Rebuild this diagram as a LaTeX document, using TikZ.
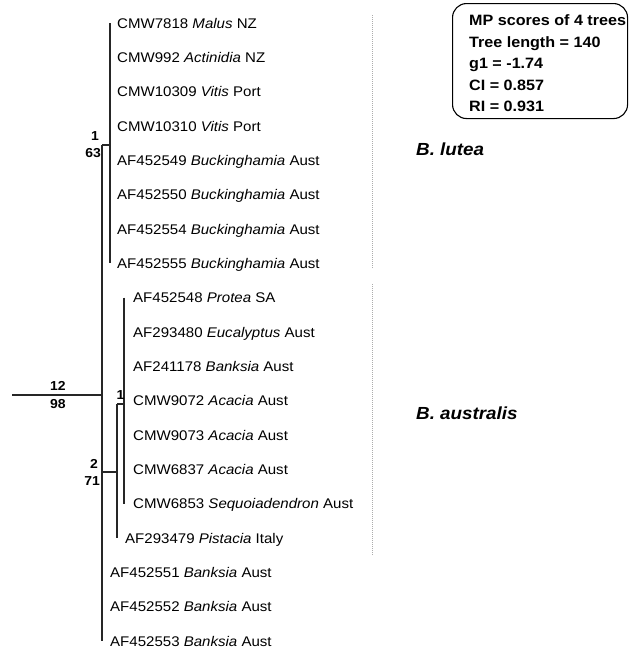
\documentclass[tikz,border=0pt]{standalone}
\usepackage{fontspec}
\setmainfont{Liberation Sans}[FakeStretch=1.075]
\begin{document}
\begin{tikzpicture}[x=1pt,y=-1pt,
  tree/.style={line width=1.1pt, black!85},
  leaf/.style={anchor=west, inner sep=0pt, text height=10pt, text depth=0pt, font=\fontsize{14}{16}\selectfont},
  supp/.style={inner sep=0pt, text height=9.5pt, text depth=0pt, font=\bfseries\fontsize{13}{15}\selectfont},
  clade/.style={anchor=west, inner sep=0pt, text height=12.5pt, text depth=0pt, font=\bfseries\itshape\fontsize{17.5}{20}\selectfont},
  stat/.style={anchor=west, inner sep=0pt, text height=10.7pt, text depth=0pt, font=\bfseries\fontsize{15}{17}\selectfont},
  scan/.style={gray!65, line width=1pt, densely dotted}]
\useasboundingbox (0,0) rectangle (629,648);

% leaves
\node[leaf] (L1)  at (117,23)    {CMW7818 \textit{Malus} NZ};
\node[leaf] (L2)  at (117,57.3)  {CMW992 \textit{Actinidia} NZ};
\node[leaf] (L3)  at (117,91.7)  {CMW10309 \textit{Vitis} Port};
\node[leaf] (L4)  at (117,126)   {CMW10310 \textit{Vitis} Port};
\node[leaf] (L5)  at (117,160.3) {AF452549 \textit{Buckinghamia} Aust};
\node[leaf] (L6)  at (117,194.7) {AF452550 \textit{Buckinghamia} Aust};
\node[leaf] (L7)  at (117,229)   {AF452554 \textit{Buckinghamia} Aust};
\node[leaf] (L8)  at (117,263.3) {AF452555 \textit{Buckinghamia} Aust};
\node[leaf] (L9)  at (133,297.7) {AF452548 \textit{Protea} SA};
\node[leaf] (L10) at (133,332)   {AF293480 \textit{Eucalyptus} Aust};
\node[leaf] (L11) at (133,366.3) {AF241178 \textit{Banksia} Aust};
\node[leaf] (L12) at (133,400.7) {CMW9072 \textit{Acacia} Aust};
\node[leaf] (L13) at (133,435)   {CMW9073 \textit{Acacia} Aust};
\node[leaf] (L14) at (133,469.3) {CMW6837 \textit{Acacia} Aust};
\node[leaf] (L15) at (133,503.7) {CMW6853 \textit{Sequoiadendron} Aust};
\node[leaf] (L16) at (125,538)   {AF293479 \textit{Pistacia} Italy};
\node[leaf] (L17) at (110,572.3) {AF452551 \textit{Banksia} Aust};
\node[leaf] (L18) at (110,606.7) {AF452552 \textit{Banksia} Aust};
\node[leaf] (L19) at (110,641)   {AF452553 \textit{Banksia} Aust};

% internal nodes
\coordinate (stem) at (12,395);
\coordinate (root) at (102,395);
\coordinate (cA) at (110,145);
\coordinate (cB) at (117,472);
\coordinate (cC) at (124,404);

% branches
\draw[tree, line width=1.3pt] (stem) -- (root);
\draw[tree] (cA -| root) -- (L19.west -| root);
\draw[tree] (cA -| root) -- (cA);
\draw[tree] (L1.west -| cA) -- (L8.west -| cA);
\draw[tree] (cB -| root) -- (cB);
\draw[tree] (cC -| cB) -- (L16.west -| cB);
\draw[tree] (cC -| cB) -- (cC);
\draw[tree] (L9.west -| cC) -- (L15.west -| cC);

% support values
\node[supp] (sA1) at (95,136) {1};
\node[supp, anchor=east] (sA2) at (101,153) {63};
\node[supp] (sR1) at (58,386) {12};
\node[supp] (sR2) at (58,404) {98};
\node[supp] (sC1) at (120.5,395) {1};
\node[supp] (sB1) at (94,464) {2};
\node[supp, anchor=east] (sB2) at (100,481) {71};

% scan line
\draw[scan] (372,15) -- (372,268);
\draw[scan] (372,284) -- (372,556);

% clade names
\node[clade] (lutea) at (416,149) {B. lutea};
\node[clade] (australis) at (416,413) {B. australis};

% stats box
\node[draw, line width=1.1pt, rounded corners=14pt, minimum width=175pt, minimum height=115pt, anchor=north west, inner sep=0pt] (box) at (452,3) {};
\node[stat] (s1) at (469,20)  {MP scores of 4 trees};
\node[stat] (s2) at (469,42)  {Tree length = 140};
\node[stat] (s3) at (469,63)  {g1 = -1.74};
\node[stat] (s4) at (469,85)  {CI = 0.857};
\node[stat] (s5) at (469,106) {RI = 0.931};
\end{tikzpicture}
\end{document}
